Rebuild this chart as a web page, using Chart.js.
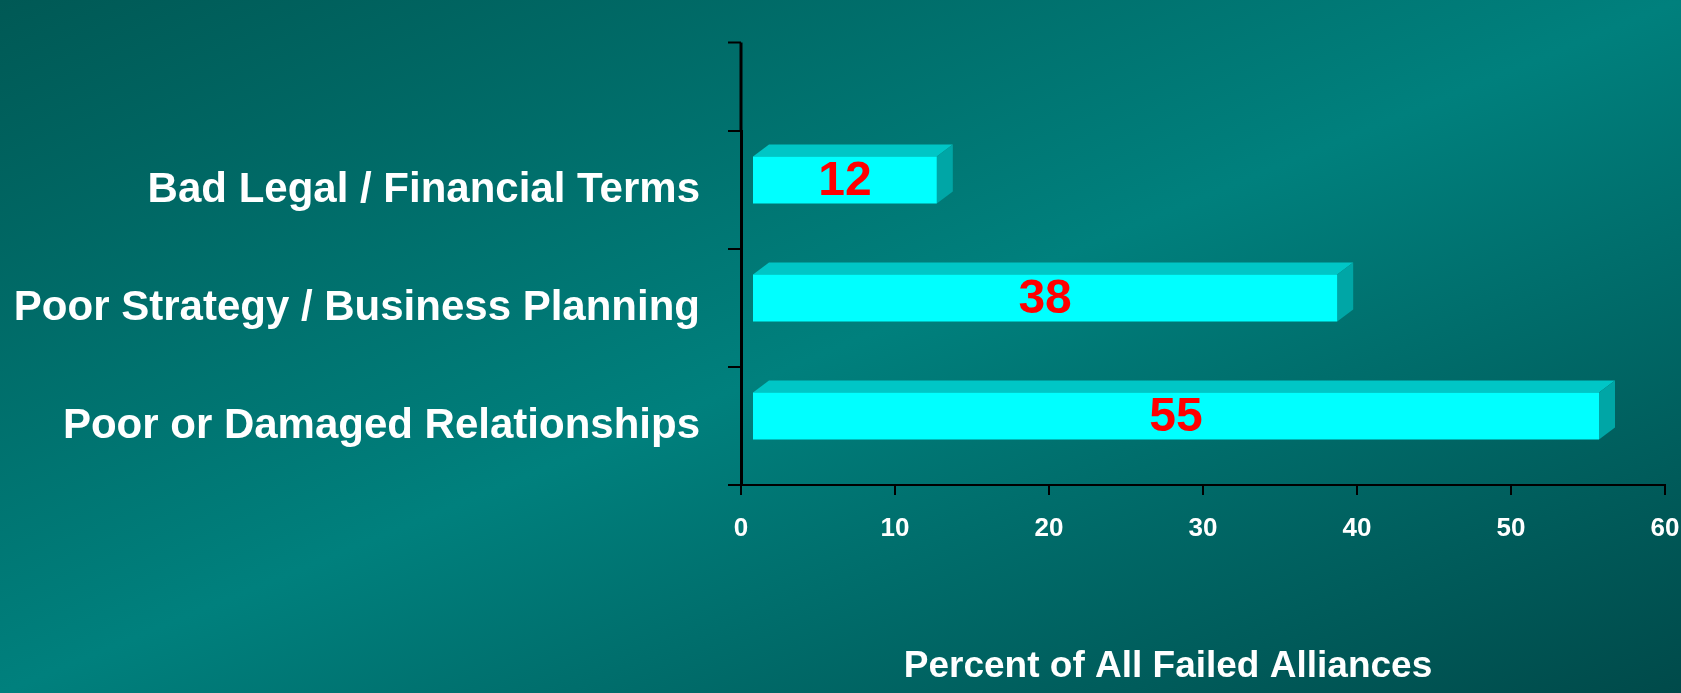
<!DOCTYPE html>
<html>
<head>
<meta charset="utf-8">
<script src="https://cdn.jsdelivr.net/npm/chart.js@4/dist/chart.umd.min.js"></script>
<style>
    html, body { margin: 0; padding: 0; background: #006b68; overflow: hidden; }
    #wrap { position: relative; width: 1681px; height: 693px; }
    canvas { display: block; }
</style>
</head>
<body>
<div id="wrap"><canvas id="failChart"></canvas></div>
<script>
// Datos del gráfico
const categories = ['Bad Legal / Financial Terms', 'Poor Strategy / Business Planning', 'Poor or Damaged Relationships'];
const percentValues = [12, 38, 55];
const xMin = 0;
const xMax = 60;
const xStep = 10;
const axisTitle = 'Percent of All Failed Alliances';

// efecto 3D de las barras
const SHIFT_X = 11, SHIFT_Y = -10;
const DEPTH_X = 16, DEPTH_Y = 12;

// fondo degradado
const fondoPlugin = {
    id: 'fondo',
    beforeDraw(chart) {
        const { ctx, width, height } = chart;
        const cx = width / 2, cy = height / 2;
        const len = Math.hypot(width, height);
        const ux = height / len, uy = width / len;
        const half = (cx * ux + cy * uy);
        const g = ctx.createLinearGradient(cx - half * ux, cy - half * uy, cx + half * ux, cy + half * uy);
        g.addColorStop(0, '#005955');
        g.addColorStop(0.5, '#00807d');
        g.addColorStop(1, '#004a4a');
        ctx.save();
        ctx.fillStyle = g;
        ctx.fillRect(0, 0, width, height);
        ctx.restore();
    }
};

const barras3d = {
    id: 'barras3d',
    beforeDatasetDraw(chart, args) {
        const ctx = chart.ctx;
        ctx.save();
        args.meta.data.forEach(bar => {
            const p = bar.getProps(['x', 'y', 'base', 'height'], true);
            const left = p.base + SHIFT_X, right = p.x + SHIFT_X;
            const top = p.y - p.height / 2 + SHIFT_Y, bottom = p.y + p.height / 2 + SHIFT_Y;
            // cara superior
            ctx.fillStyle = '#00c6c6';
            ctx.beginPath();
            ctx.moveTo(left, top);
            ctx.lineTo(left + DEPTH_X, top - DEPTH_Y);
            ctx.lineTo(right + DEPTH_X, top - DEPTH_Y);
            ctx.lineTo(right, top);
            ctx.closePath();
            ctx.fill();
            // cara lateral
            ctx.fillStyle = '#00a6a6';
            ctx.beginPath();
            ctx.moveTo(right, top);
            ctx.lineTo(right + DEPTH_X, top - DEPTH_Y);
            ctx.lineTo(right + DEPTH_X, bottom - DEPTH_Y);
            ctx.lineTo(right, bottom);
            ctx.closePath();
            ctx.fill();
        });
        ctx.restore();
        ctx.save();
        ctx.translate(SHIFT_X, SHIFT_Y);
    },
    afterDatasetDraw(chart, args) {
        const ctx = chart.ctx;
        ctx.restore();
        const ds = chart.data.datasets[args.index];
        ctx.save();
        ctx.fillStyle = '#ff0000';
        ctx.font = 'bold 48px "Liberation Sans", Arial, sans-serif';
        ctx.textAlign = 'center';
        ctx.textBaseline = 'middle';
        args.meta.data.forEach((bar, i) => {
            const p = bar.getProps(['x', 'y', 'base'], true);
            ctx.fillText(String(ds.data[i]), (p.x + p.base) / 2 + SHIFT_X, p.y + SHIFT_Y + 2);
        });
        ctx.restore();
    }
};

// extensión del eje Y por encima de la primera categoría + título del eje X
const ejesPlugin = {
    id: 'ejes',
    afterDraw(chart) {
        const { ctx, chartArea } = chart;
        const y = chart.scales.y;
        const slot = (chartArea.bottom - chartArea.top) / categories.length;
        const topY = chartArea.top - slot * 0.75;
        ctx.save();
        ctx.strokeStyle = '#000000';
        ctx.lineWidth = 3;
        ctx.beginPath();
        ctx.moveTo(chartArea.left, chartArea.top);
        ctx.lineTo(chartArea.left, topY);
        ctx.stroke();
        ctx.lineWidth = 2;
        ctx.beginPath();
        ctx.moveTo(chartArea.left, topY);
        ctx.lineTo(chartArea.left - y.options.grid.tickLength, topY);
        ctx.stroke();

        ctx.fillStyle = '#ffffff';
        ctx.font = 'bold 37px "Liberation Sans", Arial, sans-serif';
        ctx.textAlign = 'center';
        ctx.textBaseline = 'alphabetic';
        ctx.fillText(axisTitle, 1168, 677);
        ctx.restore();
    }
};

const ctx = document.getElementById('failChart').getContext('2d');
new Chart(ctx, {
    type: 'bar',
    data: {
        labels: categories,
        datasets: [{
            data: percentValues,
            backgroundColor: '#00ffff',
            borderWidth: 0,
            categoryPercentage: 1,
            barPercentage: 0.4,
            clip: false
        }]
    },
    options: {
        indexAxis: 'y',
        responsive: true,
        maintainAspectRatio: false,
        animation: false,
        layout: {
            padding: { top: 131, right: 0, bottom: 0, left: 0 }
        },
        plugins: {
            legend: { display: false },
            tooltip: { enabled: false }
        },
        scales: {
            x: {
                min: xMin,
                max: xMax,
                afterFit(scale) {
                    scale.height = 208;
                    scale.paddingRight = 16;
                },
                border: { color: '#000000', width: 2 },
                grid: {
                    drawOnChartArea: false,
                    drawTicks: true,
                    tickLength: 10,
                    color: '#000000',
                    lineWidth: 2
                },
                ticks: {
                    stepSize: xStep,
                    color: '#ffffff',
                    padding: 18,
                    maxRotation: 0,
                    font: { family: '"Liberation Sans", Arial, sans-serif', size: 26, weight: 'bold' }
                }
            },
            y: {
                afterFit(scale) { scale.width = 741; },
                border: { color: '#000000', width: 3 },
                grid: {
                    drawOnChartArea: false,
                    drawTicks: true,
                    tickLength: 13,
                    color: '#000000',
                    lineWidth: 2
                },
                ticks: {
                    color: '#ffffff',
                    padding: 28,
                    font: { family: '"Liberation Sans", Arial, sans-serif', size: 42, weight: 'bold' }
                }
            }
        }
    },
    plugins: [fondoPlugin, barras3d, ejesPlugin]
});
</script>
</body>
</html>
